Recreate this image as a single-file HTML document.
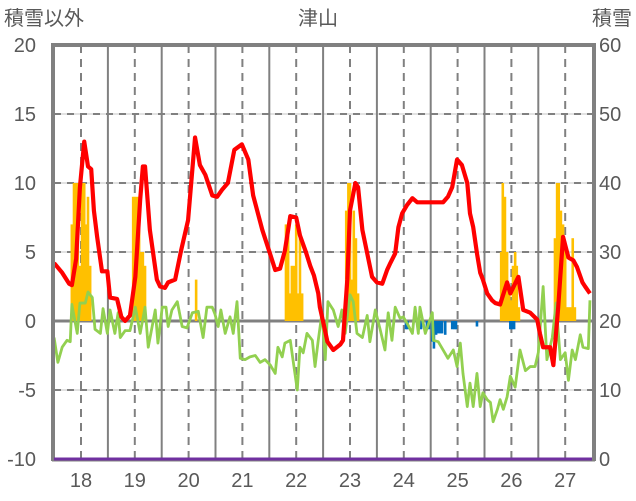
<!DOCTYPE html>
<html><head><meta charset="utf-8"><style>
body{margin:0;background:#fff;}
svg{display:block;font-family:"Liberation Sans","Noto Sans CJK JP",sans-serif;}
</style></head><body>
<svg id="chart" width="636" height="501" viewBox="0 0 636 501" xmlns="http://www.w3.org/2000/svg">
<text x="318" y="25" text-anchor="middle" font-size="20" fill="#595959">津山</text>
<text x="4" y="25" font-size="20" fill="#595959">積雪以外</text>
<text x="632" y="25" text-anchor="end" font-size="20" fill="#595959">積雪</text>
<g id="grid"></g>
<g id="bars"></g>
<g id="lines"></g>
<g id="frame"></g>
<g id="ticks"></g>
</svg>
<script>
const yearLabels=[18,19,20,21,22,23,24,25,26,27];
const leftTicks=[20,15,10,5,0,-5,-10];
const rightTicks=[60,50,40,30,20,10,0];
const redDates=[17.50,17.65,17.78,17.83,17.91,17.98,18.06,18.13,18.19,18.24,18.30,18.39,18.49,18.54,18.67,18.75,18.82,18.91,19.01,19.10,19.15,19.19,19.28,19.41,19.47,19.56,19.62,19.75,19.86,19.99,20.12,20.21,20.31,20.44,20.53,20.62,20.73,20.85,20.99,21.11,21.20,21.37,21.52,21.61,21.70,21.79,21.89,22.00,22.07,22.18,22.26,22.33,22.41,22.44,22.52,22.58,22.69,22.82,22.87,22.95,23.00,23.10,23.15,23.23,23.32,23.41,23.50,23.60,23.69,23.75,23.84,23.90,23.97,24.06,24.16,24.25,24.73,24.82,24.90,24.99,25.08,25.18,25.23,25.29,25.36,25.42,25.47,25.55,25.64,25.70,25.79,25.92,25.98,26.13,26.22,26.35,26.48,26.53,26.59,26.72,26.78,26.87,26.96,27.06,27.15,27.22,27.32,27.37,27.46];
const redValues=[4.2,3.5,2.7,2.6,4.5,9.7,13.0,11.2,11.0,8.0,6.1,3.6,3.6,1.7,1.6,0.3,0.0,0.4,3.2,8.8,11.2,11.2,6.6,3.0,2.5,2.4,2.8,3.0,5.1,7.3,13.3,11.3,10.6,9.1,9.0,9.5,10.0,12.4,12.8,11.7,9.1,6.6,4.8,3.7,3.8,5.1,7.6,7.5,6.2,5.0,4.0,3.3,2.0,1.0,-0.4,-1.5,-2.1,-1.7,-1.4,3.0,8.0,10.0,9.7,6.6,4.9,3.2,2.8,2.7,3.7,4.2,4.9,6.8,7.8,8.4,8.9,8.6,8.6,9.0,9.7,11.7,11.3,10.0,7.8,6.8,4.9,3.5,3.0,2.0,1.5,1.3,1.2,2.8,2.0,3.2,0.8,0.6,0.1,-0.9,-1.9,-1.9,-3.2,1.0,6.1,4.6,4.4,3.9,2.8,2.5,2.0];
const greenDates=[17.50,17.57,17.65,17.74,17.80,17.83,17.93,17.98,18.08,18.13,18.21,18.26,18.36,18.41,18.49,18.54,18.63,18.69,18.73,18.82,18.91,19.01,19.10,19.19,19.25,19.38,19.43,19.51,19.58,19.62,19.69,19.79,19.88,19.97,20.07,20.18,20.27,20.34,20.44,20.49,20.55,20.60,20.68,20.77,20.83,20.90,20.96,21.05,21.14,21.24,21.33,21.42,21.52,21.61,21.66,21.74,21.79,21.89,21.94,22.02,22.07,22.13,22.20,22.30,22.35,22.41,22.48,22.54,22.59,22.69,22.78,22.85,22.91,23.00,23.06,23.13,23.23,23.32,23.37,23.47,23.56,23.65,23.71,23.78,23.84,23.93,23.99,24.08,24.16,24.21,24.27,24.30,24.40,24.53,24.55,24.64,24.73,24.82,24.92,24.99,25.05,25.10,25.18,25.23,25.29,25.36,25.42,25.47,25.55,25.61,25.66,25.74,25.79,25.85,25.92,25.98,26.07,26.16,26.26,26.35,26.44,26.50,26.59,26.66,26.76,26.83,26.91,27.00,27.06,27.13,27.19,27.28,27.33,27.43,27.46];
const greenValues=[-1.2,-3.0,-1.9,-1.4,-1.5,1.2,-0.9,1.3,1.3,2.1,1.7,-0.6,-0.9,0.9,-0.9,0.8,-0.9,0.6,-1.2,-0.7,-0.7,1.0,-0.9,1.0,-1.9,0.8,-1.6,1.0,1.0,-0.4,0.8,1.4,-0.4,-0.5,0.6,0.7,-1.2,1.0,1.0,0.5,-0.4,0.8,-0.9,0.3,-0.9,1.4,-2.7,-2.8,-2.6,-2.5,-3.0,-2.8,-3.2,-3.8,-1.9,-2.6,-1.6,-1.4,-2.8,-5.0,-1.9,-2.3,-0.9,-1.4,-3.3,-1.4,0.6,-2.8,1.4,0.8,-0.4,0.8,-0.9,1.9,1.4,-0.9,-1.2,0.4,-1.5,0.8,-0.6,-2.1,0.6,-1.4,1.0,0.2,0.3,-0.3,-0.9,1.0,-0.9,1.0,-0.9,0.6,-1.4,-1.5,-2.1,-2.7,-2.1,-3.3,-1.6,-3.8,-6.2,-4.5,-6.2,-3.8,-6.2,-5.2,-5.7,-5.9,-7.3,-6.4,-5.7,-6.4,-5.5,-4.0,-4.8,-2.1,-3.6,-3.3,-3.3,-2.3,2.5,-2.8,-1.2,1.3,-2.8,-2.3,-4.3,-2.1,-2.8,-1.0,-1.9,-2.0,1.5];
const snowDates=[17.83,17.87,17.91,17.94,17.98,18.02,18.06,18.09,18.13,18.17,18.97,19.00,19.04,19.08,19.12,19.15,19.19,20.14,21.81,21.85,21.88,21.92,21.96,22.00,22.04,22.07,22.11,22.93,22.97,23.00,23.04,23.07,23.11,23.15,25.81,25.84,25.88,25.92,25.96,25.99,26.03,26.07,26.10,26.14,26.81,26.85,26.88,26.92,26.96,27.00,27.03,27.07,27.11,27.14,27.18];
const snowValues=[14,20,20,20,8,20,20,14,18,8,18,18,18,18,10,10,8,6,14,14,4,8,8,14,4,12,4,16,20,20,6,16,12,4,10,20,18,10,4,3,8,10,8,2,12,20,20,16,14,11,2,2,2,12,2];
const blueDates=[24.04,24.07,24.32,24.43,24.47,24.53,24.56,24.60,24.64,24.68,24.71,24.77,24.90,24.94,24.97,25.36,25.98,26.01,26.05];
const blueValues=[-0.6,-0.6,-0.6,-0.6,-0.6,-1.5,-2.0,-1.0,-0.9,-0.9,-0.9,-1.0,-0.6,-0.6,-0.6,-0.4,-0.6,-0.6,-0.6];

const NS='http://www.w3.org/2000/svg';
const L=54,R=592,T=45,B=459;
const xS=t=>81+(t-18)*53.8;
const yL=v=>T+(20-v)*(B-T)/30;
const yR=v=>T+(60-v)*(B-T)/60;
function mk(tag,attrs,parent){const e=document.createElementNS(NS,tag);for(const k in attrs)e.setAttribute(k,attrs[k]);parent.appendChild(e);return e;}
const grid=document.getElementById('grid'),bars=document.getElementById('bars'),lines=document.getElementById('lines'),frame=document.getElementById('frame'),ticks=document.getElementById('ticks');

[15,10,5,-5].forEach(v=>{
  let g=mk('line',{x1:L,x2:R,y1:yL(v),y2:yL(v),stroke:'#d9d9d9','stroke-width':1.5},grid);
  
  
  let d=mk('line',{x1:L,x2:R,y1:yL(v),y2:yL(v),stroke:'#808080','stroke-width':2,'stroke-dasharray':'7,6'},grid);
  
  
});
yearLabels.forEach(y=>{
  let d=mk('line',{x1:xS(y),x2:xS(y),y1:T,y2:B,stroke:'#808080','stroke-width':2,'stroke-dasharray':'8,6'},grid);
  
  
  if(y<27){let s=mk('line',{x1:xS(y+0.5),x2:xS(y+0.5),y1:T,y2:B,stroke:'#808080','stroke-width':2},grid);
  
  }
  let t=mk('text',{x:xS(y),y:487,'text-anchor':'middle','font-size':20,fill:'#595959'},ticks);
  t.textContent=y;
  
  
});
let z=mk('line',{x1:L,x2:R,y1:yL(0),y2:yL(0),stroke:'#808080','stroke-width':3},grid);



snowDates.forEach((d,i)=>{
  let r=mk('rect',{x:xS(d)-1.3,width:2.6,y:yR(20+snowValues[i]),height:yR(20)-yR(20+snowValues[i]),fill:'#ffc000'},bars);
  
  
});
blueDates.forEach((d,i)=>{
  let r=mk('rect',{x:xS(d)-1.3,width:2.6,y:yL(0),height:yL(blueValues[i])-yL(0),fill:'#0070c0'},bars);
  
  
});
let gp=mk('polyline',{points:greenDates.map((d,i)=>xS(d)+','+yL(greenValues[i])).join(' '),fill:'none',stroke:'#92d050','stroke-width':2.8,'stroke-linejoin':'round'},lines);


let rp=mk('polyline',{points:redDates.map((d,i)=>xS(d)+','+yL(redValues[i])).join(' '),fill:'none',stroke:'#ff0000','stroke-width':4.2,'stroke-linejoin':'round'},lines);



let fr=mk('path',{d:`M${L-1},${B+2} V${T} H${R+2} V${B+2}`,fill:'none',stroke:'#808080','stroke-width':4},frame);


let bb=mk('line',{x1:L-2,x2:R+3,y1:B+1.5,y2:B+1.5,stroke:'#808080','stroke-width':2},frame);


let pl=mk('line',{x1:L,x2:R,y1:B,y2:B,stroke:'#7030a0','stroke-width':3},frame);



leftTicks.forEach(v=>{
  let t=mk('text',{x:36,y:yL(v)+7,'text-anchor':'end','font-size':20,fill:'#595959'},ticks);
  t.textContent=v;
  
  
});
rightTicks.forEach(v=>{
  let t=mk('text',{x:599,y:yR(v)+7,'font-size':20,fill:'#595959'},ticks);
  t.textContent=v;
  
  
});
</script>
</body></html>
